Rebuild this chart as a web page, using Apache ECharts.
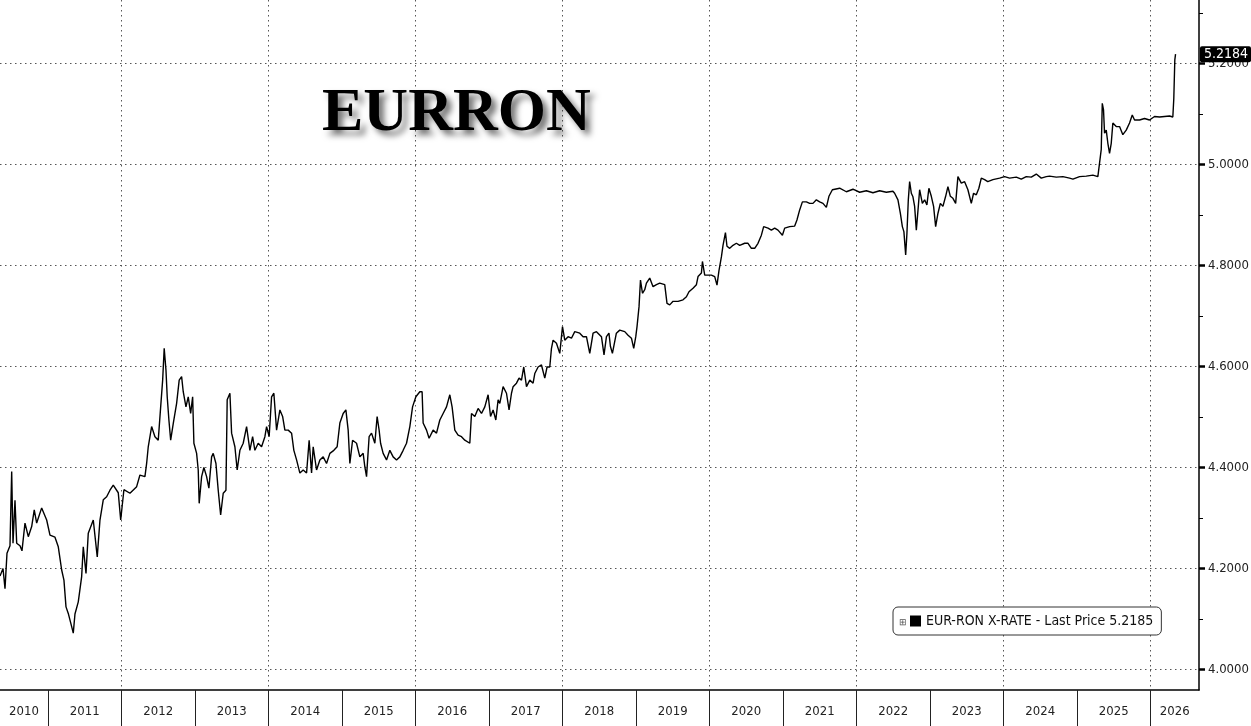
<!DOCTYPE html>
<html>
<head>
<meta charset="utf-8">
<script src="https://cdn.jsdelivr.net/npm/echarts@6/dist/echarts.min.js"></script>
<style>
html, body { margin: 0; padding: 0; background: #fff; }
#chart { width: 1251px; height: 726px; }
</style>
</head>
<body>
<div id="chart"></div>
<script>
// EUR-RON fixing (time in decimal years)
var times = [
  2010.347, 2010.388, 2010.415, 2010.442, 2010.483, 2010.506, 2010.524, 2010.551, 2010.574, 2010.619,
  2010.646, 2010.687, 2010.732, 2010.778, 2010.813, 2010.846, 2010.914, 2010.982, 2011.027, 2011.095,
  2011.140, 2011.186, 2011.217, 2011.245, 2011.276, 2011.322, 2011.344, 2011.367, 2011.412, 2011.458,
  2011.480, 2011.517, 2011.548, 2011.616, 2011.670, 2011.707, 2011.752, 2011.798, 2011.843, 2011.888,
  2011.956, 2011.989, 2012.033, 2012.115, 2012.206, 2012.251, 2012.319, 2012.342, 2012.364, 2012.410,
  2012.455, 2012.500, 2012.533, 2012.560, 2012.581, 2012.605, 2012.622, 2012.645, 2012.669, 2012.704,
  2012.750, 2012.785, 2012.818, 2012.840, 2012.877, 2012.908, 2012.941, 2012.968, 2012.985, 2013.022,
  2013.044, 2013.057, 2013.090, 2013.121, 2013.158, 2013.189, 2013.226, 2013.248, 2013.285, 2013.316,
  2013.349, 2013.384, 2013.421, 2013.438, 2013.475, 2013.498, 2013.543, 2013.574, 2013.611, 2013.656,
  2013.702, 2013.724, 2013.747, 2013.784, 2013.815, 2013.860, 2013.906, 2013.951, 2013.974, 2014.009,
  2014.042, 2014.073, 2014.110, 2014.155, 2014.192, 2014.223, 2014.268, 2014.314, 2014.345, 2014.382,
  2014.427, 2014.472, 2014.518, 2014.553, 2014.586, 2014.608, 2014.654, 2014.699, 2014.744, 2014.790,
  2014.835, 2014.889, 2014.934, 2014.971, 2015.016, 2015.053, 2015.084, 2015.107, 2015.144, 2015.198,
  2015.243, 2015.288, 2015.311, 2015.334, 2015.369, 2015.402, 2015.447, 2015.478, 2015.505, 2015.525,
  2015.560, 2015.606, 2015.651, 2015.696, 2015.742, 2015.787, 2015.832, 2015.878, 2015.923, 2015.960,
  2016.005, 2016.059, 2016.090, 2016.104, 2016.150, 2016.185, 2016.240, 2016.286, 2016.331, 2016.376,
  2016.422, 2016.467, 2016.498, 2016.535, 2016.580, 2016.626, 2016.671, 2016.739, 2016.762, 2016.807,
  2016.852, 2016.898, 2016.943, 2016.988, 2017.021, 2017.056, 2017.093, 2017.124, 2017.147, 2017.192,
  2017.238, 2017.273, 2017.306, 2017.328, 2017.374, 2017.409, 2017.442, 2017.473, 2017.510, 2017.555,
  2017.600, 2017.623, 2017.668, 2017.714, 2017.759, 2017.790, 2017.827, 2017.850, 2017.872, 2017.918,
  2017.963, 2018.000, 2018.031, 2018.076, 2018.122, 2018.167, 2018.235, 2018.280, 2018.326, 2018.371,
  2018.416, 2018.462, 2018.530, 2018.565, 2018.598, 2018.632, 2018.652, 2018.679, 2018.733, 2018.779,
  2018.847, 2018.892, 2018.938, 2018.969, 2018.997, 2019.014, 2019.041, 2019.061, 2019.088, 2019.119,
  2019.142, 2019.187, 2019.232, 2019.278, 2019.323, 2019.391, 2019.422, 2019.459, 2019.504, 2019.572,
  2019.640, 2019.686, 2019.721, 2019.776, 2019.822, 2019.844, 2019.890, 2019.904, 2019.935, 2019.980,
  2020.026, 2020.071, 2020.102, 2020.129, 2020.162, 2020.184, 2020.217, 2020.238, 2020.275, 2020.320,
  2020.366, 2020.411, 2020.479, 2020.524, 2020.570, 2020.615, 2020.660, 2020.706, 2020.737, 2020.796,
  2020.842, 2020.887, 2020.932, 2020.992, 2021.023, 2021.091, 2021.159, 2021.190, 2021.227, 2021.264,
  2021.318, 2021.363, 2021.408, 2021.454, 2021.499, 2021.544, 2021.590, 2021.625, 2021.672, 2021.771,
  2021.862, 2021.952, 2022.043, 2022.134, 2022.224, 2022.315, 2022.406, 2022.496, 2022.519, 2022.564,
  2022.597, 2022.624, 2022.645, 2022.669, 2022.686, 2022.705, 2022.723, 2022.746, 2022.768, 2022.791,
  2022.814, 2022.841, 2022.859, 2022.896, 2022.927, 2022.958, 2022.985, 2023.018, 2023.049, 2023.077,
  2023.108, 2023.141, 2023.176, 2023.213, 2023.244, 2023.277, 2023.312, 2023.349, 2023.380, 2023.426,
  2023.471, 2023.516, 2023.562, 2023.593, 2023.630, 2023.665, 2023.698, 2023.743, 2023.786, 2023.856, 2023.947,
  2024.015, 2024.083, 2024.174, 2024.242, 2024.310, 2024.378, 2024.446, 2024.514, 2024.582, 2024.627,
  2024.718, 2024.808, 2024.899, 2024.944, 2025.035, 2025.126, 2025.216, 2025.284,
  2025.307, 2025.330, 2025.344, 2025.361, 2025.375, 2025.398, 2025.420, 2025.443, 2025.466, 2025.488,
  2025.534, 2025.579, 2025.624, 2025.670, 2025.715, 2025.752, 2025.783, 2025.851, 2025.919, 2025.987,
  2026.055, 2026.123, 2026.191, 2026.259, 2026.304, 2026.317, 2026.331, 2026.341
];
var rates = [
  4.185, 4.200, 4.160, 4.230, 4.245, 4.392, 4.250, 4.335, 4.250, 4.245,
  4.235, 4.290, 4.263, 4.283, 4.316, 4.290, 4.320, 4.296, 4.266, 4.262,
  4.243, 4.197, 4.177, 4.124, 4.111, 4.085, 4.072, 4.110, 4.134, 4.184,
  4.243, 4.190, 4.270, 4.296, 4.223, 4.296, 4.336, 4.342, 4.355, 4.365,
  4.350, 4.296, 4.356, 4.349, 4.362, 4.385, 4.382, 4.408, 4.441, 4.481,
  4.461, 4.454, 4.520, 4.573, 4.636, 4.593, 4.540, 4.494, 4.454, 4.487,
  4.527, 4.573, 4.580, 4.550, 4.520, 4.540, 4.507, 4.540, 4.448, 4.428,
  4.395, 4.329, 4.382, 4.400, 4.382, 4.359, 4.421, 4.428, 4.408, 4.355,
  4.306, 4.349, 4.355, 4.534, 4.547, 4.468, 4.441, 4.395, 4.434, 4.448,
  4.481, 4.481, 4.434, 4.461, 4.434, 4.448, 4.441, 4.461, 4.481, 4.461,
  4.540, 4.547, 4.474, 4.514, 4.501, 4.474, 4.474, 4.468, 4.434, 4.415,
  4.389, 4.395, 4.389, 4.454, 4.389, 4.441, 4.395, 4.415, 4.421, 4.408,
  4.428, 4.434, 4.441, 4.488, 4.507, 4.514, 4.474, 4.408, 4.454, 4.448,
  4.421, 4.428, 4.401, 4.382, 4.461, 4.468, 4.448, 4.501, 4.474, 4.448,
  4.428, 4.415, 4.434, 4.421, 4.415, 4.421, 4.434, 4.448, 4.481, 4.520,
  4.540, 4.550, 4.550, 4.488, 4.474, 4.458, 4.474, 4.468, 4.494, 4.507,
  4.520, 4.544, 4.520, 4.474, 4.464, 4.461, 4.454, 4.448, 4.507, 4.501,
  4.517, 4.507, 4.520, 4.544, 4.501, 4.514, 4.494, 4.534, 4.527, 4.560,
  4.547, 4.514, 4.547, 4.560, 4.567, 4.577, 4.573, 4.599, 4.560, 4.573,
  4.567, 4.586, 4.599, 4.603, 4.577, 4.599, 4.599, 4.636, 4.652, 4.646,
  4.626, 4.679, 4.652, 4.659, 4.656, 4.669, 4.666, 4.659, 4.659, 4.626,
  4.666, 4.669, 4.659, 4.623, 4.659, 4.666, 4.640, 4.626, 4.666, 4.672,
  4.669, 4.662, 4.656, 4.636, 4.659, 4.679, 4.718, 4.771, 4.745, 4.752,
  4.765, 4.775, 4.758, 4.762, 4.765, 4.762, 4.725, 4.722, 4.729, 4.729,
  4.732, 4.738, 4.748, 4.755, 4.762, 4.778, 4.785, 4.808, 4.781, 4.781,
  4.781, 4.778, 4.761, 4.790, 4.817, 4.840, 4.865, 4.838, 4.834, 4.840,
  4.844, 4.840, 4.844, 4.844, 4.834, 4.834, 4.844, 4.860, 4.877, 4.874,
  4.870, 4.874, 4.870, 4.860, 4.874, 4.877, 4.878, 4.890, 4.910, 4.926,
  4.926, 4.923, 4.923, 4.930, 4.926, 4.923, 4.915, 4.937, 4.950, 4.953,
  4.946, 4.951, 4.945, 4.948, 4.944, 4.948, 4.945, 4.947, 4.943, 4.930,
  4.903, 4.877, 4.867, 4.821, 4.863, 4.930, 4.966, 4.943, 4.936, 4.917,
  4.870, 4.917, 4.950, 4.923, 4.930, 4.920, 4.953, 4.937, 4.917, 4.877,
  4.903, 4.923, 4.917, 4.937, 4.956, 4.937, 4.933, 4.923, 4.976, 4.963,
  4.966, 4.950, 4.923, 4.943, 4.940, 4.953, 4.973, 4.970, 4.966, 4.970, 4.973,
  4.976, 4.973, 4.975, 4.971, 4.976, 4.975, 4.981, 4.973, 4.976, 4.977,
  4.975, 4.976, 4.973, 4.971, 4.976, 4.977, 4.979, 4.976,
  4.976, 5.030, 5.121, 5.108, 5.062, 5.068, 5.042, 5.022, 5.042, 5.082,
  5.075, 5.075, 5.059, 5.068, 5.082, 5.098, 5.088, 5.088, 5.091, 5.088,
  5.095, 5.094, 5.095, 5.096, 5.094, 5.130, 5.207, 5.2184
];

var yearLabels = [2010, 2011, 2012, 2013, 2014, 2015, 2016, 2017, 2018,
                  2019, 2020, 2021, 2022, 2023, 2024, 2025, 2026];
var majorTicks = [4.0, 4.2, 4.4, 4.6, 4.8, 5.0, 5.2];
var minorTicks = [4.1, 4.3, 4.5, 4.7, 4.9, 5.1, 5.3];
var lastPrice = '5.2185';
var seriesName = 'EUR-RON X-RATE - Last Price ' + lastPrice;

var xMin = 2010.347, xMax = 2026.66;
var yMin = 3.9594, yMax = 5.3257;

var FONT = '"DejaVu Sans Condensed", "Liberation Sans Narrow", "Liberation Sans", sans-serif';

// year separators, gridlines every other year, labels centred in each visible year
var yearStarts = yearLabels.filter(function (y) { return y > xMin && y < xMax; });
var evenYears = yearStarts.filter(function (y) { return y % 2 === 0; });
var yearCentres = yearLabels.map(function (y) {
  return (Math.max(y, xMin) + Math.min(y + 1, xMax)) / 2;
});

var chart = echarts.init(document.getElementById('chart'));
var option = {
  backgroundColor: '#fff',
  animation: false,
  title: {
    text: 'EURRON',
    left: 317,
    top: 78,
    textStyle: {
      fontFamily: '"Liberation Serif", "DejaVu Serif", serif',
      fontWeight: 'bold',
      fontSize: 62,
      color: '#000',
      textShadowColor: 'rgba(0,0,0,0.55)',
      textShadowBlur: 6,
      textShadowOffsetX: 5,
      textShadowOffsetY: 5
    }
  },
  legend: {
    left: 893,
    top: 607,
    data: [{ name: seriesName, icon: 'rect' }],
    itemWidth: 11,
    itemHeight: 11,
    padding: [7, 8, 7, 17],
    backgroundColor: '#fff',
    borderColor: '#333',
    borderWidth: 1,
    borderRadius: 5,
    selectedMode: false,
    textStyle: { fontFamily: FONT, fontSize: 14, color: '#111' }
  },
  graphic: [{
    type: 'text',
    left: 899,
    top: 618,
    z: 100,
    style: { text: '⊞', fontSize: 9, fill: '#555' }
  }],
  grid: { left: 0, right: 52, top: 0, bottom: 36, containLabel: false, outerBoundsMode: 'none' },
  xAxis: [{
    type: 'value',
    min: xMin,
    max: xMax,
    axisLine: { show: true, lineStyle: { color: '#000', width: 1.5 } },
    axisTick: { show: true, customValues: yearStarts, length: 36, lineStyle: { color: '#222', width: 1 } },
    axisLabel: {
      customValues: yearCentres,
      formatter: function (v) { return String(Math.floor(v)); },
      margin: 15,
      fontFamily: FONT,
      fontSize: 13,
      color: '#222'
    },
    splitLine: { show: false }
  }, {
    type: 'value',
    min: xMin,
    max: xMax,
    axisLine: { show: false },
    axisTick: { show: false, customValues: evenYears },
    axisLabel: { show: false },
    splitLine: { show: true, lineStyle: { type: [1.5, 3.5], color: '#555', width: 1 } }
  }],
  yAxis: [{
    type: 'value',
    position: 'right',
    min: yMin,
    max: yMax,
    axisLine: { show: true, lineStyle: { color: '#000', width: 1.5 } },
    axisTick: { show: true, customValues: minorTicks, length: 4, lineStyle: { color: '#000', width: 1 } },
    axisLabel: {
      customValues: majorTicks,
      formatter: function (v) { return v.toFixed(4); },
      margin: 9,
      fontFamily: FONT,
      fontSize: 13,
      color: '#222'
    },
    splitLine: { show: false },
    axisPointer: {
      show: true,
      status: 'show',
      value: rates[rates.length - 1],
      type: 'line',
      triggerTooltip: false,
      lineStyle: { opacity: 0 },
      label: {
        show: true,
        formatter: function (p) { return Number(p.value).toFixed(4); },
        backgroundColor: '#000',
        color: '#fff',
        fontFamily: FONT,
        fontSize: 14,
        padding: [1, 3, 1, 4],
        borderRadius: 2,
        margin: 4
      }
    }
  }, {
    type: 'value',
    position: 'right',
    min: yMin,
    max: yMax,
    axisLine: { show: false },
    axisTick: { show: true, customValues: majorTicks, length: 6, lineStyle: { color: '#000', width: 2.5 } },
    axisLabel: { show: false },
    splitLine: { show: true, lineStyle: { type: [1.5, 3.5], color: '#555', width: 1 } }
  }],
  series: [{
    name: seriesName,
    type: 'line',
    xAxisIndex: 0,
    yAxisIndex: 0,
    data: times.map(function (t, i) { return [t, rates[i]]; }),
    symbol: 'none',
    showSymbol: false,
    lineStyle: { color: '#000', width: 1.4 },
    itemStyle: { color: '#000' }
  }]
};
chart.setOption(option);
</script>
</body>
</html>
